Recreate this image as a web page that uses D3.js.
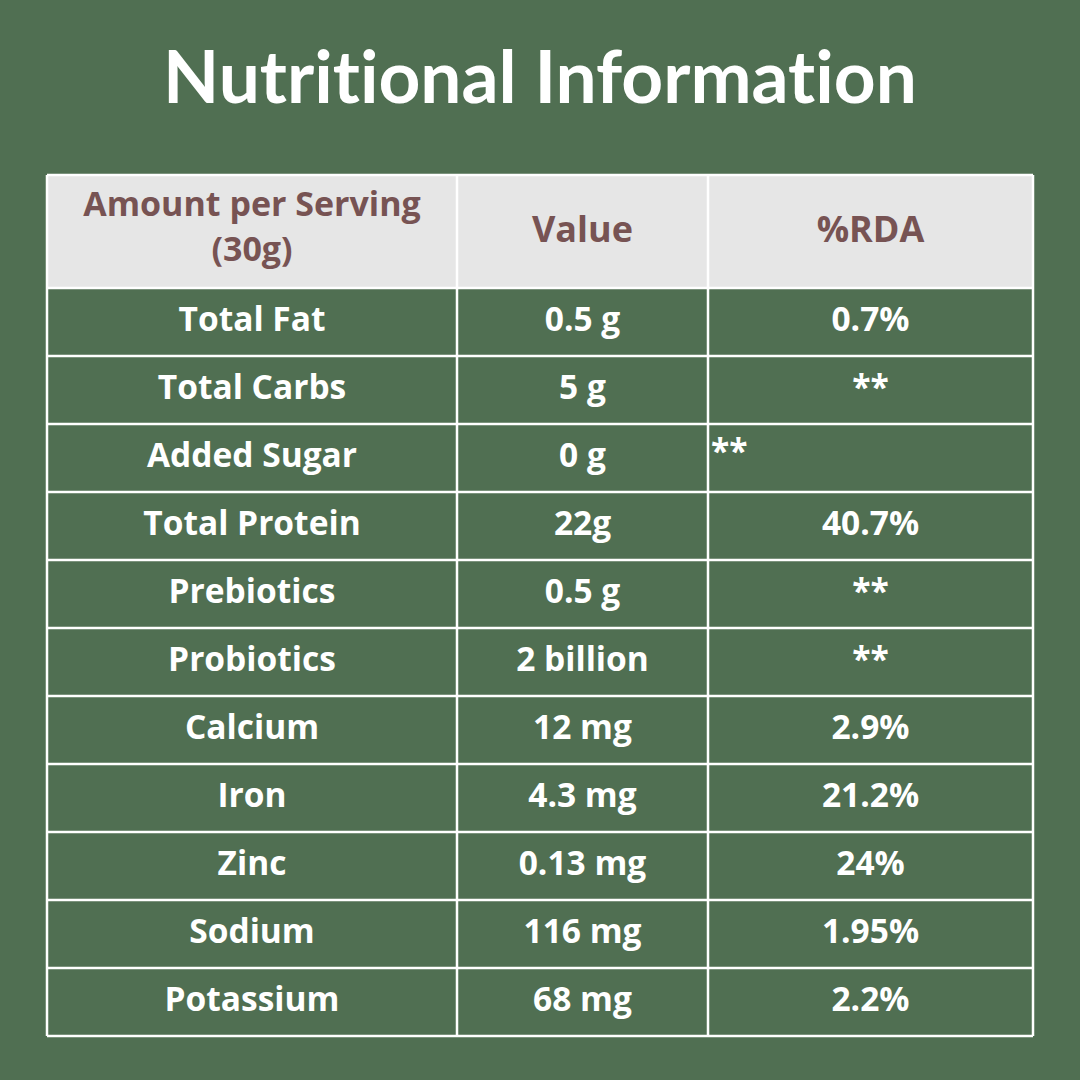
<!DOCTYPE html>
<html>
<head>
<meta charset="utf-8">
<title>Nutritional Information</title>
<style>
  body { margin: 0; background: #506f52; }
  text { font-family: "Open Sans", Lato, sans-serif; font-weight: 700; }
  text.title { font-family: Lato, sans-serif; font-variant-ligatures: none; }
</style>
</head>
<body>
<script src="https://cdn.jsdelivr.net/npm/d3@7"></script>
<script>
var headers = ['Amount per Serving\n(30g)', 'Value', '%RDA'];
var nutrients = ['Total Fat', 'Total Carbs', 'Added Sugar', 'Total Protein', 'Prebiotics', 'Probiotics',
  'Calcium', 'Iron', 'Zinc', 'Sodium', 'Potassium'];
var amounts = ['0.5 g', '5 g', '0 g', '22g', '0.5 g', '2 billion', '12 mg', '4.3 mg', '0.13 mg', '116 mg', '68 mg'];
var rda = ['0.7%', '**', '**', '40.7%', '**', '**', '2.9%', '21.2%', '24%', '1.95%', '2.2%'];

var W = 1080, H = 1080;
var svg = d3.select('body').append('svg').attr('width', W).attr('height', H);
svg.append('rect').attr('width', W).attr('height', H).attr('fill', '#506f52');

svg.append('text')
  .attr('class', 'title')
  .attr('x', 540).attr('y', 103)
  .attr('text-anchor', 'middle')
  .attr('fill', '#fff')
  .style('font-size', '73px')
  .text('Nutritional Information');

// column edges and row edges
var colX = [47, 457, 708, 1033];
var tableTop = 175, headH = 113, rowH = 68;
var y = d3.scaleBand().domain(d3.range(nutrients.length))
  .range([tableTop + headH, tableTop + headH + rowH * nutrients.length]);

// header
svg.append('rect').attr('x', colX[0]).attr('y', tableTop).attr('width', colX[3] - colX[0]).attr('height', headH)
  .attr('fill', '#e6e6e6');
headers.forEach(function(h, i) {
  var lines = h.split('\n');
  var cx = (colX[i] + colX[i + 1]) / 2;
  var multi = lines.length > 1;
  var t = svg.append('text').attr('text-anchor', 'middle').attr('fill', '#775353')
    .style('font-size', multi ? '34px' : '36px');
  lines.forEach(function(l, j) {
    t.append('tspan').attr('x', cx)
      .attr('y', tableTop + headH / 2 + (multi ? 7 : 10) + (j - (lines.length - 1) / 2) * 45)
      .text(l);
  });
});

// body rows
var rows = nutrients.map(function(n, i) { return [n, amounts[i], rda[i]]; });
rows.forEach(function(r, i) {
  r.forEach(function(v, c) {
    var odd = (i === 2 && c === 2); // left-aligned stars in Added Sugar row
    svg.append('text')
      .attr('x', odd ? colX[c] + 3 : (colX[c] + colX[c + 1]) / 2)
      .attr('y', y(i) + (odd ? 39 : 43))
      .attr('text-anchor', odd ? 'start' : 'middle')
      .attr('fill', '#fff')
      .style('font-size', '33.5px')
      .text(v);
  });
});

// grid lines
var g = svg.append('g').attr('stroke', '#fff').attr('stroke-width', 2.5).attr('fill', 'none');
var bottom = y.range()[1];
colX.forEach(function(x) {
  g.append('line').attr('x1', x).attr('x2', x).attr('y1', tableTop).attr('y2', bottom);
});
[tableTop].concat(d3.range(nutrients.length).map(function(i) { return y(i); }), [bottom]).forEach(function(yy) {
  g.append('line').attr('x1', colX[0]).attr('x2', colX[3]).attr('y1', yy).attr('y2', yy);
});
</script>
</body>
</html>
